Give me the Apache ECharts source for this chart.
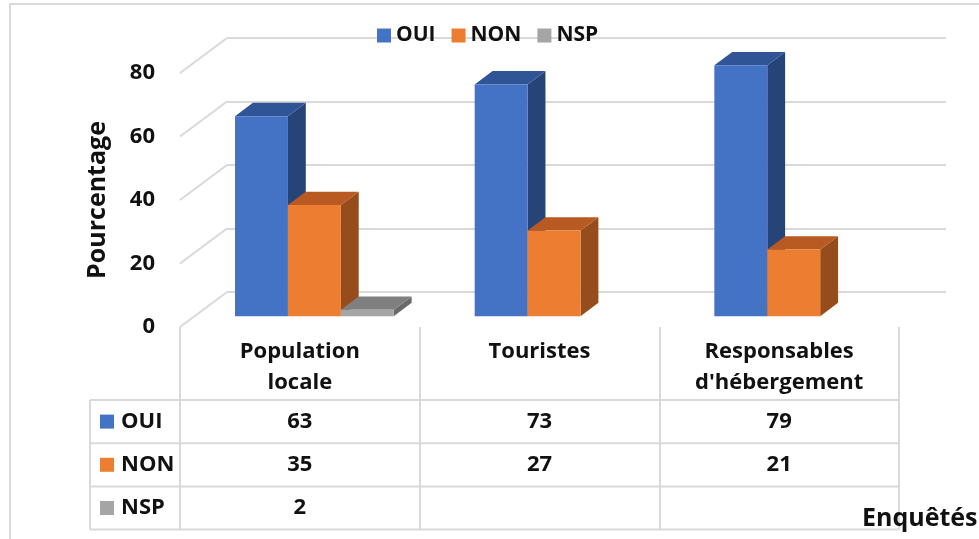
<!DOCTYPE html>
<html>
<head>
<meta charset="utf-8">
<title>Pourcentage par enquêtés</title>
<script src="https://cdn.jsdelivr.net/npm/echarts@6/dist/echarts.min.js"></script>
<style>
  html, body { margin: 0; padding: 0; background: #fff; }
  #chart { width: 979px; height: 539px; }
</style>
</head>
<body>
<div id="chart"></div>
<script>
// data
var categories = ['Population\nlocale', 'Touristes', "Responsables\nd'hébergement"];
var seriesNames = ['OUI', 'NON', 'NSP'];
var oui = [63, 73, 79];
var non = [35, 27, 21];
var nsp = [2, null, null];
var yTicks = [0, 20, 40, 60, 80];

var rows = [oui, non, nsp];
var FONT = 'Open Sans';
var TXT = '#111';
var GRID_LINE = '#D9D9D9';

// face colours: front / top / side
var faces = [
  { front: '#4472C4', top: '#2F5597', side: '#264478' },
  { front: '#ED7D31', top: '#B85A22', side: '#974D1B' },
  { front: '#A5A5A5', top: '#7F7F7F', side: '#6A6A6A' }
];

// depth of the floor in pixels (back wall -> front edge)
var DX = -47, DY = 35;
var BAR_FRONT = 0.69, BAR_BACK = 0.31;
var BAR_RATIO = 53 / 240;

function barItem(s) {
  return function (params, api) {
    var c = api.value(0), v = api.value(1);
    if (v == null || isNaN(v)) return;
    var band = api.size([1, 0])[0];
    var w = band * BAR_RATIO;
    var base = api.coord([c, 0]);
    var top = api.coord([c, v])[1];
    var y0 = base[1];
    var L = base[0] - 1.5 * w + s * w;
    var fx = DX * BAR_FRONT, fy = DY * BAR_FRONT;
    var bx = DX * BAR_BACK, by = DY * BAR_BACK;
    var col = faces[s];
    return {
      type: 'group',
      children: [
        {
          type: 'polygon',
          shape: { points: [[L + w + fx, top + fy], [L + w + bx, top + by], [L + w + bx, y0 + by], [L + w + fx, y0 + fy]] },
          style: { fill: col.side }
        },
        {
          type: 'polygon',
          shape: { points: [[L + fx, top + fy], [L + w + fx, top + fy], [L + w + bx, top + by], [L + bx, top + by]] },
          style: { fill: col.top }
        },
        {
          type: 'rect',
          shape: { x: L + fx, y: top + fy, width: w, height: y0 - top },
          style: { fill: col.front }
        }
      ]
    };
  };
}

var barSeries = seriesNames.map(function (name, s) {
  return {
    name: name,
    type: 'custom',
    xAxisIndex: 0,
    yAxisIndex: 0,
    itemStyle: { color: faces[s].front },
    renderItem: barItem(s),
    data: rows[s].map(function (v, i) { return [i, v]; }),
    z: 3
  };
});

// slanted floor / side lines of the 3D wall
var depthLines = {
  type: 'custom',
  xAxisIndex: 0,
  yAxisIndex: 0,
  silent: true,
  renderItem: function (params, api) {
    var band = api.size([1, 0])[0];
    var p = api.coord([0, api.value(1)]);
    var x = p[0] - band / 2;
    return {
      type: 'line',
      shape: { x1: x, y1: p[1], x2: x + DX, y2: p[1] + DY },
      style: { stroke: GRID_LINE, lineWidth: 2 }
    };
  },
  data: yTicks.map(function (v) { return [0, v]; }),
  z: 1
};

// data table under the chart
var HEAD_H = 73, ROW_H = 43.2, LABEL_W = 90;
var table = {
  type: 'custom',
  xAxisIndex: 1,
  yAxisIndex: 1,
  silent: true,
  renderItem: function (params, api) {
    var c = params.dataIndex;
    var band = api.size([1, 0])[0];
    var p = api.coord([c, 0]);
    var left = p[0] - band / 2;
    var y0 = p[1] + HEAD_H;
    var kids = [];
    var x1 = c === 0 ? left - LABEL_W : left;
    for (var r = 0; r <= rows.length; r++) {
      var y = y0 + r * ROW_H;
      kids.push({ type: 'line', shape: { x1: x1, y1: y, x2: left + band, y2: y }, style: { stroke: GRID_LINE, lineWidth: 2 } });
    }
    rows.forEach(function (row, r) {
      var cy = y0 + (r + 0.5) * ROW_H;
      kids.push({
        type: 'text',
        style: { x: p[0], y: cy, text: row[c] == null ? '' : String(row[c]), fill: TXT, font: 'bold 22px "' + FONT + '"', align: 'center', verticalAlign: 'middle' }
      });
      if (c === 0) {
        kids.push({ type: 'rect', shape: { x: left - 80, y: cy - 7, width: 14, height: 14 }, style: { fill: faces[r].front } });
        kids.push({
          type: 'text',
          style: { x: left - 59, y: cy, text: seriesNames[r], fill: TXT, font: 'bold 22px "' + FONT + '"', align: 'left', verticalAlign: 'middle' }
        });
      }
    });
    if (c === 0) {
      kids.push({ type: 'line', shape: { x1: x1, y1: y0, x2: x1, y2: y0 + rows.length * ROW_H }, style: { stroke: GRID_LINE, lineWidth: 2 } });
    }
    return { type: 'group', children: kids };
  },
  data: categories.map(function (c, i) { return [i, 0]; }),
  z: 2
};

var chart = echarts.init(document.getElementById('chart'));
chart.setOption({
  backgroundColor: '#fff',
  animation: false,
  textStyle: { fontFamily: FONT },
  legend: {
    data: seriesNames,
    left: 372,
    top: 20,
    icon: 'rect',
    itemWidth: 14,
    itemHeight: 14,
    itemGap: 16,
    textStyle: { fontSize: 21, fontWeight: 'bold', color: TXT, fontFamily: FONT }
  },
  grid: [
    { left: 227, top: 38, width: 719, height: 254 },
    { left: 227 + DX, top: 38 + DY, width: 719, height: 254 }
  ],
  xAxis: [
    { type: 'category', gridIndex: 0, data: categories, show: false },
    {
      type: 'category',
      gridIndex: 1,
      data: categories,
      axisLine: { show: false },
      axisTick: { show: true, length: 203, lineStyle: { color: GRID_LINE, width: 2 } },
      axisLabel: { color: TXT, fontSize: 22, fontWeight: 'bold', lineHeight: 31, margin: 9, interval: 0 },
      splitLine: { show: false }
    }
  ],
  yAxis: [
    {
      type: 'value',
      gridIndex: 0,
      min: 0,
      max: 80,
      interval: 20,
      axisLine: { show: false },
      axisTick: { show: false },
      axisLabel: { show: false },
      splitLine: { lineStyle: { color: GRID_LINE, width: 2 } }
    },
    {
      type: 'value',
      gridIndex: 1,
      min: 0,
      max: 80,
      interval: 20,
      name: 'Pourcentage',
      nameLocation: 'middle',
      nameGap: 70,
      nameTextStyle: { fontSize: 25, fontWeight: 'bold', color: TXT },
      axisLine: { show: false },
      axisTick: { show: false },
      axisLabel: { color: TXT, fontSize: 22, fontWeight: 'bold', margin: 25 },
      splitLine: { show: false }
    }
  ],
  graphic: [
    { type: 'rect', shape: { x: 10, y: 4, width: 1000, height: 600 }, style: { fill: 'none', stroke: GRID_LINE, lineWidth: 2 }, z: -1 },
    { type: 'text', left: 862, top: 506, style: { text: 'Enquêtés', fill: TXT, font: 'bold 25px "' + FONT + '"' }, z: 10 }
  ],
  series: barSeries.concat([depthLines, table])
});
</script>
</body>
</html>
